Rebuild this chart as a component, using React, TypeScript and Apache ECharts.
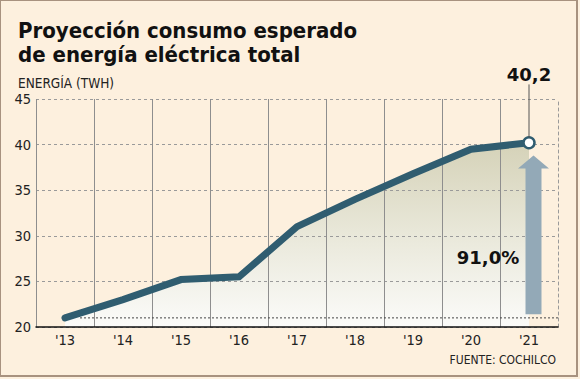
import React, { useEffect, useRef } from 'react';
import * as echarts from 'echarts';

const years = ["'13", "'14", "'15", "'16", "'17", "'18", "'19", "'20", "'21"];
const consumption = [21.0, 23.0, 25.2, 25.5, 31.0, 34.0, 36.8, 39.5, 40.2];
const yMin = 20;
const yMax = 45;
const yStep = 5;
const baselineValue = 21.0;
const growthText = '91,0%';
const growthTextAt = 27.6;
const arrowFrom = 21.4;
const arrowTo = 38.8;
const leaderTop = 46.6;

const titleText = 'Proyección consumo esperado\nde energía eléctrica total';
const unitText = 'ENERGÍA (TWH)';
const sourceText = 'FUENTE: COCHILCO';

const COND = '"DejaVu Sans Condensed", "DejaVu Sans", sans-serif';
const BOLD = '"DejaVu Sans", sans-serif';
const LINE = '#305d70';

export default function App() {
  const ref = useRef<HTMLDivElement>(null);
  useEffect(() => {
    if (!ref.current) return;
    const chart = echarts.init(ref.current, undefined, { renderer: 'svg' });
    const last = consumption.length - 1;
    const fmt = (v: number) => v.toFixed(1).replace('.', ',');
    chart.setOption({
      animation: false,
      backgroundColor: '#fdf0de',
      title: [
        {
          text: titleText,
          left: 13,
          top: 14,
          textStyle: { fontFamily: COND, fontWeight: 'bold', fontSize: 22, lineHeight: 23.5, color: '#111' },
        },
        {
          text: unitText,
          left: 13,
          top: 71,
          textStyle: { fontFamily: COND, fontWeight: 'normal', fontSize: 13.5, color: '#222' },
        },
        {
          text: sourceText,
          right: 19,
          top: 349,
          textStyle: { fontFamily: COND, fontWeight: 'normal', fontSize: 12, color: '#222' },
        },
      ],
      grid: { left: 36, right: 22, top: 99, bottom: 52, containLabel: false },
      xAxis: {
        type: 'category',
        data: years,
        boundaryGap: true,
        z: 2,
        axisLine: { show: true, lineStyle: { color: '#111', width: 1.5 } },
        axisTick: { show: false },
        axisLabel: { fontFamily: COND, fontSize: 14.5, color: '#222', margin: 5 },
        splitLine: { show: true, showMinLine: true, showMaxLine: false, lineStyle: { color: '#8e8e8e', width: 1 } },
      },
      yAxis: [
        {
          type: 'value',
          min: yMin,
          max: yMax,
          interval: yStep,
          z: 2,
          axisLine: { show: false },
          axisTick: { show: false },
          axisLabel: { fontFamily: COND, fontSize: 14.5, color: '#222', margin: 5 },
          splitLine: { show: true, lineStyle: { color: '#9a9a9a', type: [3, 3], width: 1 } },
        },
        {
          type: 'value',
          min: yMin,
          max: yMax,
          interval: yStep,
          position: 'right',
          z: 2,
          axisLine: { show: true, lineStyle: { color: '#9a9a9a', type: [3, 3], width: 1 } },
          axisTick: { show: false },
          axisLabel: { show: false },
          splitLine: { show: false },
        },
      ],
      series: [
        {
          type: 'line',
          name: 'area',
          data: consumption,
          z: 1,
          symbol: 'none',
          lineStyle: { width: 0 },
          areaStyle: {
            opacity: 1,
            color: new echarts.graphic.LinearGradient(0, 0, 0, 1, [
              { offset: 0, color: '#d5d2b8' },
              { offset: 0.55, color: '#ebeadd' },
              { offset: 1, color: '#fbfbf9' },
            ]),
          },
        },
        {
          type: 'line',
          name: 'consumo',
          z: 3,
          symbol: 'circle',
          showAllSymbol: true,
          data: consumption.map((v, i) =>
            i === last
              ? { value: v, symbol: 'circle', symbolSize: 11, itemStyle: { color: '#ffffff', borderColor: LINE, borderWidth: 2.5 } }
              : { value: v, symbol: 'none' }
          ),
          lineStyle: { color: LINE, width: 7, cap: 'round', join: 'miter' },
          itemStyle: { color: LINE },
        },
        {
          type: 'custom',
          z: 4,
          clip: false,
          data: [[last, consumption[last]]],
          renderItem: (params: any, api: any) => {
            const cs = params.coordSys;
            const idx = api.value(0);
            const val = api.value(1);
            const [px, py] = api.coord([idx, val]);
            const [, yBottom] = api.coord([idx, arrowFrom]);
            const [, yTip] = api.coord([idx, arrowTo]);
            const [, yLeader] = api.coord([idx, leaderTop]);
            const [bx0, by] = api.coord([0, baselineValue]);
            const [, yGrowth] = api.coord([idx, growthTextAt]);
            const ax = px + 4.5;
            const headH = 13;
            const headW = 15.5;
            const shaftW = 8;
            return {
              type: 'group',
              children: [
                {
                  type: 'line',
                  shape: { x1: bx0 + 15, y1: by, x2: cs.x + cs.width, y2: by },
                  style: { stroke: '#444', lineWidth: 1, lineDash: [2, 2] },
                },
                {
                  type: 'polygon',
                  shape: {
                    points: [
                      [ax, yTip],
                      [ax + headW, yTip + headH],
                      [ax + shaftW, yTip + headH],
                      [ax + shaftW, yBottom],
                      [ax - shaftW, yBottom],
                      [ax - shaftW, yTip + headH],
                      [ax - headW, yTip + headH],
                    ],
                  },
                  style: { fill: '#93a9b7' },
                },
                {
                  type: 'line',
                  shape: { x1: px, y1: py - 5, x2: px, y2: yLeader },
                  style: { stroke: '#555', lineWidth: 1 },
                },
                {
                  type: 'text',
                  x: px,
                  y: yLeader - 1,
                  style: {
                    text: fmt(val),
                    align: 'center',
                    verticalAlign: 'bottom',
                    fontFamily: BOLD,
                    fontWeight: 'bold',
                    fontSize: 18,
                    fill: '#111',
                  },
                },
                {
                  type: 'text',
                  x: px - 41,
                  y: yGrowth,
                  style: {
                    text: growthText,
                    align: 'center',
                    verticalAlign: 'middle',
                    fontFamily: BOLD,
                    fontWeight: 'bold',
                    fontSize: 18,
                    fill: '#111',
                  },
                },
              ],
            };
          },
        },
      ],
    });
    return () => chart.dispose();
  }, []);
  return (
    <div style={{ position: 'fixed', left: 0, top: 0, width: 580, height: 379 }}>
      <div ref={ref} style={{ position: 'absolute', left: 0, top: 0, width: 580, height: 379 }} />
      <div
        style={{
          position: 'absolute',
          left: 0,
          top: 0,
          width: 578,
          height: 377,
          boxSizing: 'border-box',
          border: '1px solid #a8927f',
          borderRightWidth: 2,
          borderBottomWidth: 2,
          pointerEvents: 'none',
        }}
      />
    </div>
  );
}
